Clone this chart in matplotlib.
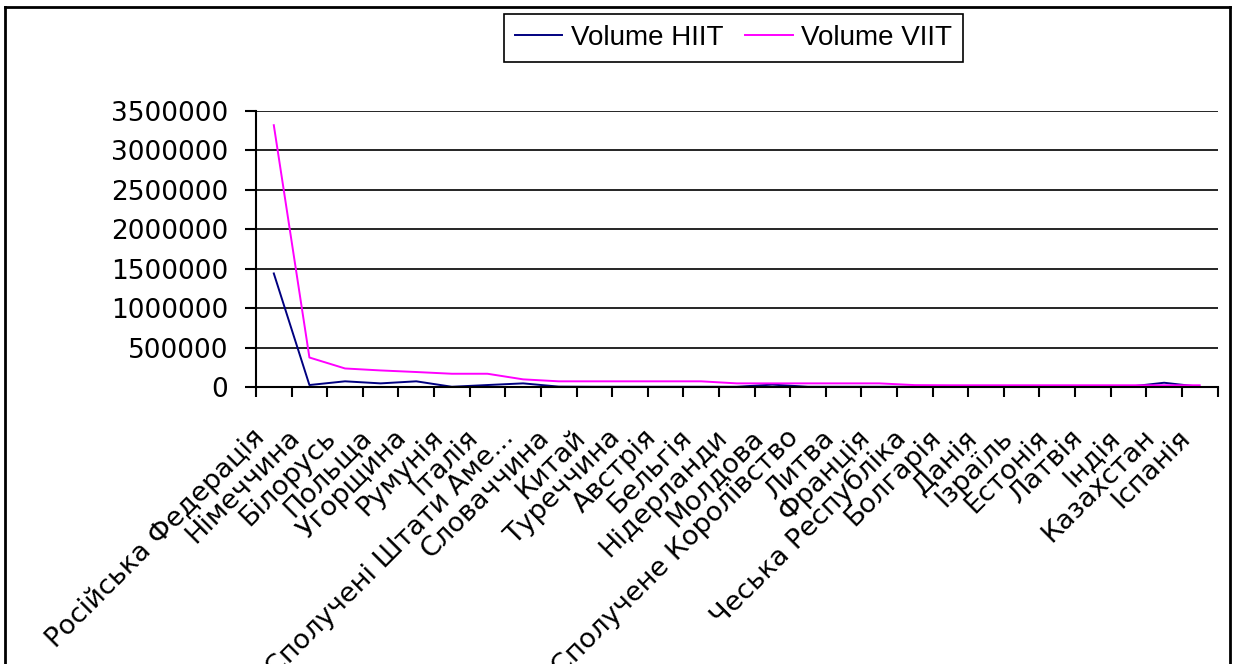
import matplotlib.pyplot as plt
from matplotlib.transforms import ScaledTranslation
import numpy as np

plt.rcParams['font.family'] = ['DejaVu Sans']

# Дані
countries = ['Російська Федерація', 'Німеччина', 'Білорусь', 'Польща', 'Угорщина',
             'Румунія', 'Італія', 'Сполучені Штати Аме...', 'Словаччина', 'Китай',
             'Туреччина', 'Австрія', 'Бельгія', 'Нідерланди', 'Молдова',
             'Сполучене Королівство', 'Литва', 'Франція', 'Чеська Республіка',
             'Болгарія', 'Данія', 'Ізраїль', 'Естонія', 'Латвія', 'Індія',
             'Казахстан', 'Іспанія']
volume_hiit = [1440000, 25000, 72000, 46000, 72000, 3000, 25000, 46000, 5000, 3000,
               3000, 3000, 3000, 3000, 30000, 3000, 3000, 3000, 3000, 3000,
               3000, 3000, 3000, 3000, 3000, 54000, 3000]
volume_viit = [3320000, 374000, 235000, 210000, 190000, 168000, 168000, 97000, 72000, 72000,
               72000, 72000, 72000, 46000, 46000, 46000, 46000, 46000, 24000, 22000,
               22000, 22000, 22000, 22000, 22000, 22000, 22000]
y_ticks = [0, 500000, 1000000, 1500000, 2000000, 2500000, 3000000, 3500000]

fig = plt.figure(figsize=(12.36, 6.64), dpi=100)
ax = fig.add_axes([256 / 1236, 1 - 387 / 664, (1217.5 - 256) / 1236, (387 - 111) / 664])

x = np.arange(len(countries))
ax.plot(x, volume_hiit, color='#000080', lw=1.4, label='Volume HIIT')
ax.plot(x, volume_viit, color='#FF00FF', lw=1.4, label='Volume VIIT')

ax.set_xlim(-0.5, len(countries) - 0.5)
ax.set_ylim(0, 3500000)
ax.set_yticks(y_ticks)
ax.set_yticklabels([str(v) for v in y_ticks], fontsize=19)
ax.grid(axis='y', color='black', lw=1.2)
ax.set_axisbelow(True)

ax.set_xticks(x)
ax.set_xticklabels(countries, rotation=45, ha='right', va='top',
                   rotation_mode='anchor', fontsize=19.5)
ax.set_xticks(np.arange(len(countries) + 1) - 0.5, minor=True)
ax.tick_params(axis='x', which='major', length=0, pad=27)
ax.tick_params(axis='x', which='minor', length=7.5, width=1.5, direction='out')
ax.tick_params(axis='y', length=8, width=1.5, pad=12)

# зсув підписів країн трохи ліворуч
shift = ScaledTranslation(-16 / 72, 0, fig.dpi_scale_trans)
for lbl in ax.get_xticklabels():
    lbl.set_transform(lbl.get_transform() + shift)

for side in ['top', 'right']:
    ax.spines[side].set_visible(False)
for side in ['left', 'bottom']:
    ax.spines[side].set_linewidth(1.5)

leg = fig.legend(loc='center', bbox_to_anchor=(733.5 / 1236, 1 - 38 / 664), ncol=2,
                 prop={'family': 'Liberation Sans', 'size': 20},
                 frameon=True, fancybox=False, framealpha=1,
                 edgecolor='black', handlelength=1.7, handletextpad=0.3,
                 columnspacing=0.8, borderpad=0.4, borderaxespad=0)
leg.get_frame().set_linewidth(1.2)

# рамка області діаграми
fig.add_artist(plt.Line2D([5 / 1236, 5 / 1236], [0, 1 - 7 / 664], color='black', lw=2,
                          transform=fig.transFigure))
fig.add_artist(plt.Line2D([5 / 1236, 1230 / 1236], [1 - 7 / 664, 1 - 7 / 664], color='black', lw=2,
                          transform=fig.transFigure))
fig.add_artist(plt.Line2D([1230 / 1236, 1230 / 1236], [0, 1 - 7 / 664], color='black', lw=2,
                          transform=fig.transFigure))

plt.savefig('out.png', dpi=100)
